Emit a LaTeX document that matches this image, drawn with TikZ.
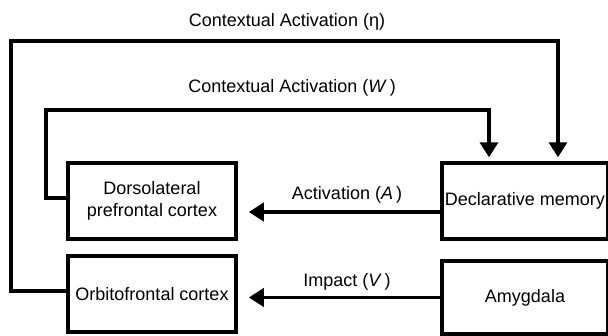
\documentclass[tikz,border=0pt]{standalone}
\usepackage{fontspec}
\setmainfont{Liberation Sans}
\usetikzlibrary{arrows.meta}
\begin{document}
\begin{tikzpicture}[x=1pt,y=-1pt,
  txt/.style={font=\fontsize{18}{21.5}\selectfont},
  box/.style={txt,draw,line width=3.5pt,minimum width=168pt,minimum height=76pt,align=center,inner sep=0pt},
  arr/.style={line width=3.5pt,-{Triangle[width=18pt,length=15pt]}}]
\clip (0,0) rectangle (608,335);
\node[box] (dl) at (152,201) {Dorsolateral\\prefrontal cortex};
\node[box] (of) at (152,294) {Orbitofrontal cortex};
\node[box,minimum width=166pt] (dm) at (525,201) {Declarative memory};
\node[box,minimum width=166pt,minimum height=73pt] (am) at (525,297.5) {Amygdala};
\coordinate (w1) at (46,110);
\coordinate (w2) at (489,110);
\coordinate (e1) at (11,41);
\coordinate (e2) at (558,41);
\node[txt] (lw) at (292,88) {Contextual Activation (\textit{W}\,)};
\node[txt] (le) at (287,22) {Contextual Activation (η)};
\node[txt] (la) at (347,195) {Activation (\textit{A}\,)};
\node[txt] (lv) at (347,282) {Impact (\textit{V}\,)};
\draw[arr,shorten >=4pt] ([yshift=3pt]dl.west) -| (w1) -- (w2) -- (w2 |- dm.north);
\draw[arr,shorten >=4pt] ([yshift=3pt]of.west) -| (e1) -- (e2) -- (e2 |- dm.north);
\draw[arr,shorten >=11pt] ([yshift=-11pt]dm.west) -- ([yshift=-11pt]dl.east);
\draw[arr,shorten >=11pt] (am.west) -- (am.west -| of.east);
\end{tikzpicture}
\end{document}
